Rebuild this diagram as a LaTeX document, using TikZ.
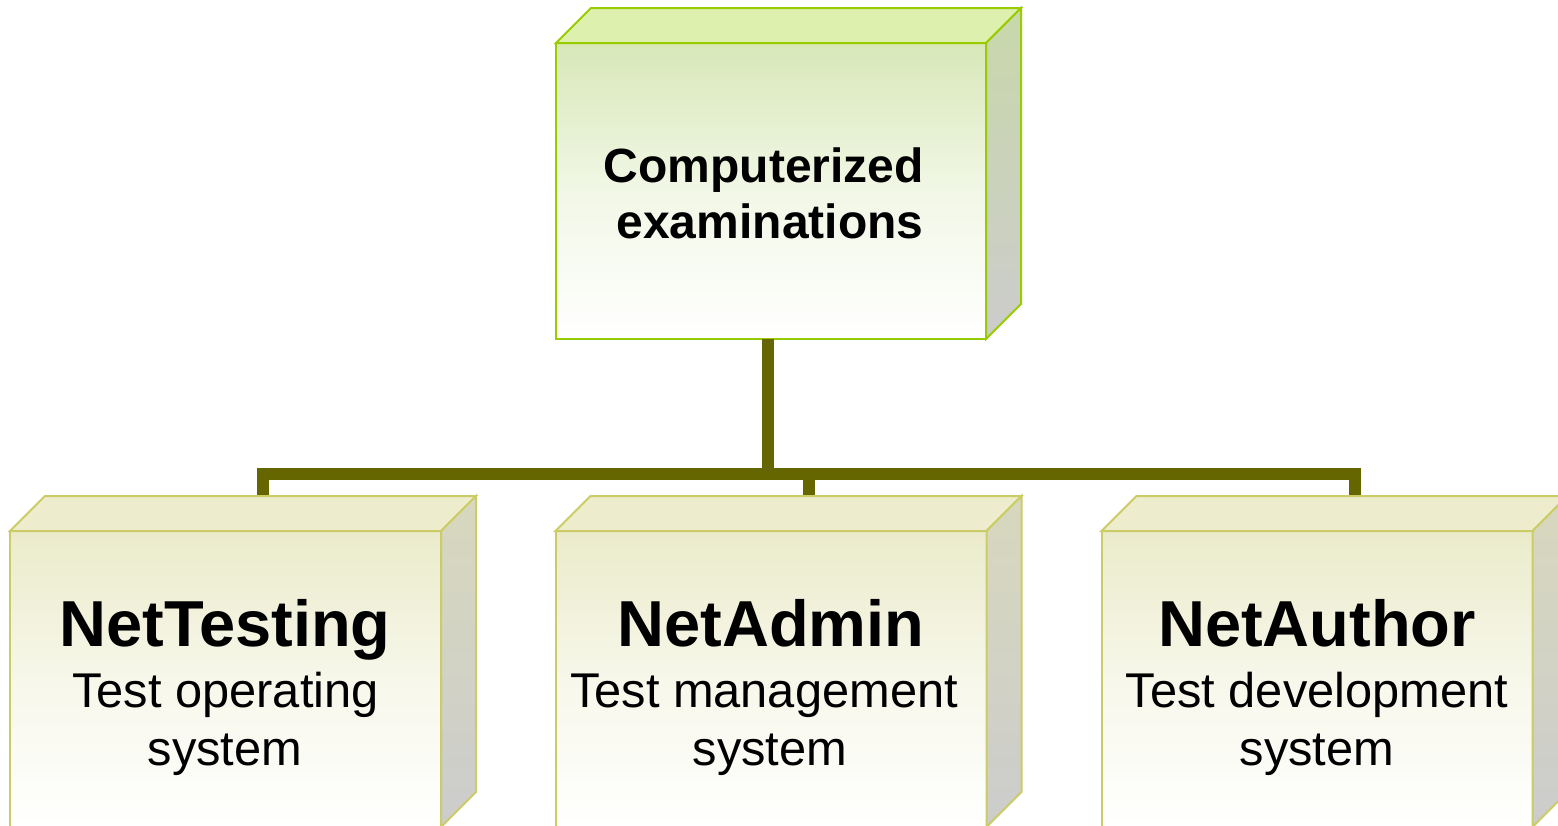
\documentclass[tikz,border=0pt]{standalone}
\usepackage{fontspec}
\setmainfont{Liberation Sans}
\definecolor{conncol}{HTML}{666600}
\definecolor{gborder}{HTML}{99CC00}
\definecolor{gfronttop}{HTML}{D8E8B8}
\definecolor{gtopface}{HTML}{DEF0AE}
\definecolor{gsidetop}{HTML}{C8D8AA}
\definecolor{yborder}{HTML}{CCCC66}
\definecolor{yfronttop}{HTML}{EBEBCB}
\definecolor{ytopface}{HTML}{EDEDCE}
\definecolor{ysidetop}{HTML}{D8D8BE}
\definecolor{sidebot}{HTML}{CCCCCC}
\begin{document}
\begin{tikzpicture}[x=1pt,y=-1pt,
  conn/.style={draw=conncol,line width=12pt,line join=miter},
  frontbox/.style={line width=2pt,minimum width=430pt,minimum height=296pt,inner sep=0pt,outer sep=0pt},
  greenfront/.style={frontbox,draw=gborder,top color=gfronttop,bottom color=white,middle color=gfronttop!35!white},
  yellowfront/.style={frontbox,minimum width=431pt,draw=yborder,top color=yfronttop,bottom color=white,middle color=yfronttop!40!white},
  greentop/.style={draw=gborder,line width=2pt,fill=gtopface,line join=miter},
  greenside/.style={draw=gborder,line width=2pt,top color=gsidetop,bottom color=sidebot,line join=miter},
  yellowtop/.style={draw=yborder,line width=2pt,fill=ytopface,line join=miter},
  yellowside/.style={draw=yborder,line width=2pt,top color=ysidetop,bottom color=sidebot,line join=miter},
  roottext/.style={anchor=base,inner sep=0pt,font=\fontsize{48}{56}\selectfont\bfseries},
  titletext/.style={anchor=base,inner sep=0pt,font=\fontsize{65}{72}\selectfont\bfseries},
  subtext/.style={anchor=base,inner sep=0pt,font=\fontsize{48.8}{56}\selectfont}
]
\useasboundingbox (0,0) rectangle (1558,825);
\clip (0,0) rectangle (1558,825);
\fill[white] (0,0) rectangle (1558,825);

% connector coordinates
\coordinate (hub) at (768,474);
\coordinate (lefttop) at (263,499);
\coordinate (midtop) at (809,499);
\coordinate (righttop) at (1355,499);

% root box front (for connector anchor)
\node[greenfront] (root) at (771,191) {};

% connectors
\draw[conn] (root.south -| hub) -- ([yshift=6pt]hub);
\draw[conn] (lefttop) -- (lefttop |- hub) -- (righttop |- hub) -- (righttop);
\draw[conn] (midtop) -- (midtop |- hub);

% root box 3D faces
\path[greentop] (root.north west) -- ++(35,-35) -- ++(430,0) -- (root.north east) -- cycle;
\path[greenside] (root.north east) -- ++(35,-35) -- ++(0,296) -- (root.south east) -- cycle;
\node[roottext] (r1) at (764,182) {Computerized};
\node[roottext] (r2) at (770,238) {examinations};

% bottom boxes
\foreach \nm/\cx in {b1/225.5,b2/771,b3/1317}{
  \node[yellowfront] (\nm) at (\cx,679) {};
  \path[yellowtop] (\nm.north west) -- ++(35,-35) -- ++(431,0) -- (\nm.north east) -- cycle;
  \path[yellowside] (\nm.north east) -- ++(35,-35) -- ++(0,296) -- (\nm.south east) -- cycle;
}

\node[titletext] (t1) at (225,646) {NetTesting};
\node[subtext] (s1a) at (225.5,707) {Test operating};
\node[subtext] (s1b) at (225,765) {system};

\node[titletext] (t2) at (771,646) {NetAdmin};
\node[subtext] (s2a) at (764,707) {Test management};
\node[subtext] (s2b) at (770,765) {system};

\node[titletext] (t3) at (1317,646) {NetAuthor};
\node[subtext] (s3a) at (1317,707) {Test development};
\node[subtext] (s3b) at (1317,765) {system};
\end{tikzpicture}
\end{document}
